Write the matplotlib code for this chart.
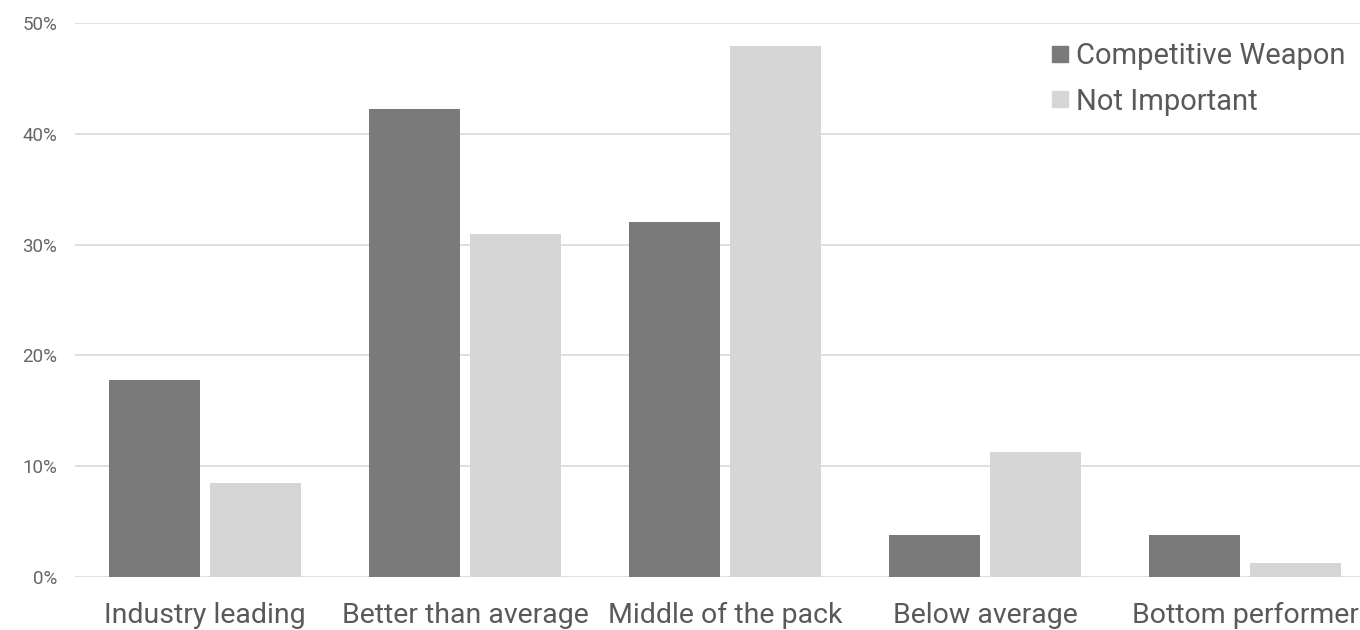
import numpy as np
import matplotlib.pyplot as plt
from matplotlib.lines import Line2D
from matplotlib.ticker import PercentFormatter

plt.rcParams["font.family"] = ["Roboto", "DejaVu Sans"]

categories = ["Industry leading", "Better than average", "Middle of the pack",
              "Below average", "Bottom performer"]
competitive = [17.8, 42.2, 32.0, 3.8, 3.8]
not_important = [8.5, 31.0, 47.9, 11.3, 1.3]
series = ["Competitive Weapon", "Not Important"]
colors = ["#7a7a7a", "#d6d6d6"]

fig = plt.figure(figsize=(13.6, 6.3), dpi=100)
# axes runs a bit past the right edge, as in the original
ax = fig.add_axes([75 / 1360, 53 / 630, 1300 / 1360, 554 / 630])

x = np.arange(len(categories))
w = 0.35
off = 0.1925
ax.bar(x - off, competitive, w, color=colors[0], zorder=3)
ax.bar(x + off, not_important, w, color=colors[1], zorder=3)

ax.set_xlim(-0.5, len(categories) - 0.5)
ax.set_ylim(0, 50)
ax.set_yticks(np.arange(0, 51, 10))
ax.yaxis.set_major_formatter(PercentFormatter(decimals=0))
ax.set_xticks(x)
ax.set_xticklabels(categories)
ax.tick_params(axis="x", length=0, pad=18, labelsize=20.5, labelcolor="#595959")
ax.tick_params(axis="y", length=0, pad=13, labelsize=13.5, labelcolor="#666666")
ax.grid(axis="y", color="#d9d9d9", lw=1.2, zorder=0)
for s in ax.spines.values():
    s.set_visible(False)

handles = [Line2D([], [], marker="s", ls="none", ms=12, color=c) for c in colors]
fig.legend(handles, series, loc="upper right", bbox_to_anchor=(1345 / 1360, 588 / 630),
           frameon=False, fontsize=21, labelcolor="#595959", borderpad=0,
           borderaxespad=0, handlelength=0.75, handletextpad=0.15, labelspacing=0.6)

plt.savefig("out.png", dpi=100)
